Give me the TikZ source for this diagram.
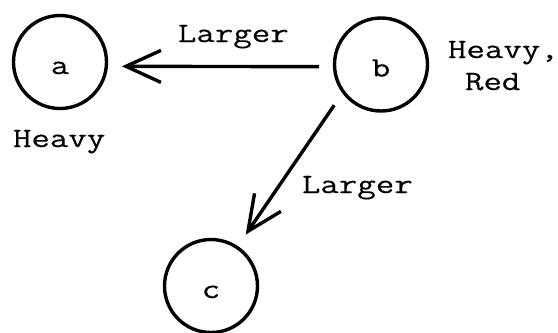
\documentclass[tikz,border=0pt]{standalone}
\usepackage{fontspec}
\setmonofont[FakeStretch=1.28,FakeBold=0.3]{Latin Modern Mono}
\usetikzlibrary{arrows.meta}
\begin{document}
\begin{tikzpicture}[x=1bp,y=-1bp,
  every node/.style={font=\fontsize{28bp}{32bp}\selectfont\ttfamily},
  vert/.style={circle,draw,line width=3.4bp,minimum size=93bp,inner sep=0pt,outer sep=15.5bp,text height=24bp,text depth=0pt},
  lbl/.style={anchor=base west,inner sep=0pt,outer sep=0pt},
  edge/.style={line width=3.4bp,-{Straight Barb[length=35bp,width=32bp]}}]
\useasboundingbox (0,0) rectangle (558,332);
\node[vert] (a) at (60,62) {a};
\node[vert] (b) at (381,64.5) {b};
\node[vert] (c) at (211,286) {c};
\draw[edge] (b.182) -- (a.-4);
\draw[edge] (b.221) -- (c.56);
\node[lbl] (l1) at (178,42) {Larger};
\node[lbl] (l2) at (302,193) {Larger};
\node[lbl] (ha) at (13,147) {Heavy};
\node[lbl] (hb) at (448,58) {Heavy,};
\node[lbl] (rb) at (465,90) {Red};
\end{tikzpicture}
\end{document}
